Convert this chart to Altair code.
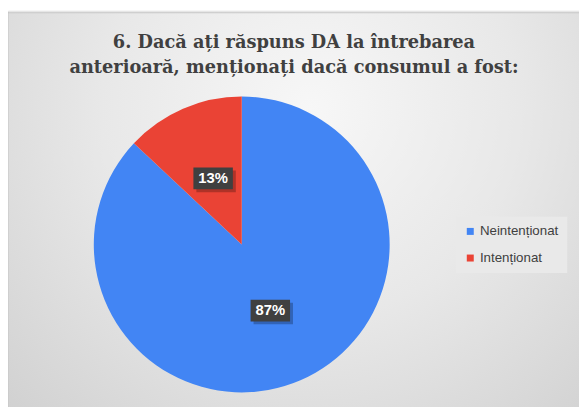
import altair as alt
import pandas as pd

# ---- data ----
categories = ["Neintenționat", "Intenționat"]
values = [87, 13]
label_texts = ["87%", "13%"]
colors = ["#4285F4", "#EA4335"]
title_lines = ["6. Dacă ați răspuns  DA la întrebarea",
               "anterioară,  menționați dacă consumul a fost:"]

df = pd.DataFrame({"cat": categories, "val": values, "lbl": label_texts,
                   "ord": list(range(len(categories)))})

W, H = 579, 399
CX, CY, R = 237, 237, 150
LR = 73  # label radius

base = alt.Chart(df)

bg = alt.Chart(pd.DataFrame({"a": [0]})).mark_rect(
    stroke="#c4c4c4", strokeWidth=1,
    color=alt.Gradient(
        gradient="radial", x1=0.52, y1=0.32, r1=0.0, x2=0.52, y2=0.32, r2=0.8,
        stops=[alt.GradientStop(color="#f7f7f7", offset=0),
               alt.GradientStop(color="#e8e8e8", offset=0.45),
               alt.GradientStop(color="#cdcdcd", offset=1)])
).encode(x=alt.value(0), x2=alt.value(W + 10), y=alt.value(2), y2=alt.value(H + 10))

title = alt.Chart().mark_text(
    font="DejaVu Serif", fontWeight="bold", fontSize=18,
    color="#404040", lineHeight=25, baseline="top", align="center",
    text=title_lines,
).encode(x=alt.value(290), y=alt.value(24))

pie = base.mark_arc(outerRadius=R, stroke=None).encode(
    theta=alt.Theta("val:Q", stack=True),
    order=alt.Order("ord:Q"),
    color=alt.Color("cat:N", scale=alt.Scale(domain=categories, range=colors),
                    sort=categories,
                    legend=alt.Legend(title=None, orient="none", legendX=454, legendY=209,
                                      symbolType="square", symbolSize=50,
                                      labelFont="Liberation Sans", labelFontSize=13.5,
                                      labelColor="#404040", rowPadding=12,
                                      symbolStrokeWidth=0, fillColor="#e9e9e9",
                                      padding=8, labelOffset=3)),
    x=alt.value(CX), y=alt.value(CY),
)

lab_base = base.transform_joinaggregate(total="sum(val)").transform_window(
    cum="sum(val)", sort=[alt.SortField("ord")]
).transform_calculate(
    mid="(datum.cum - datum.val/2) / datum.total * 2 * PI",
).transform_calculate(
    bx=f"{CX} + {LR} * sin(datum.mid)",
    by=f"{CY} - {LR} * cos(datum.mid)",
).transform_calculate(
    bx1="datum.bx - 20", bx2="datum.bx + 20",
    by1="datum.by - 11", by2="datum.by + 11",
    sx1="datum.bx - 17", sx2="datum.bx + 23",
    sy1="datum.by - 8", sy2="datum.by + 14",
)

shadow = lab_base.mark_rect(color="#000000", opacity=0.25).encode(
    x=alt.X("sx1:Q", scale=None), x2="sx2:Q",
    y=alt.Y("sy1:Q", scale=None), y2="sy2:Q")

box = lab_base.mark_rect(color="#404040").encode(
    x=alt.X("bx1:Q", scale=None), x2="bx2:Q",
    y=alt.Y("by1:Q", scale=None), y2="by2:Q")

txt = lab_base.mark_text(font="Liberation Sans", fontWeight="bold", fontSize=15,
                         color="white", align="center", baseline="middle").encode(
    x=alt.X("bx:Q", scale=None), y=alt.Y("by:Q", scale=None), text="lbl:N")

chart = alt.layer(bg, title, pie, shadow, box, txt).properties(
    width=W, height=H, padding=0,
    autosize=alt.AutoSizeParams(type="none"),
).configure_view(stroke=None).configure(background="white")

chart.save("out.html", embed_options={"renderer": "svg", "actions": False})
